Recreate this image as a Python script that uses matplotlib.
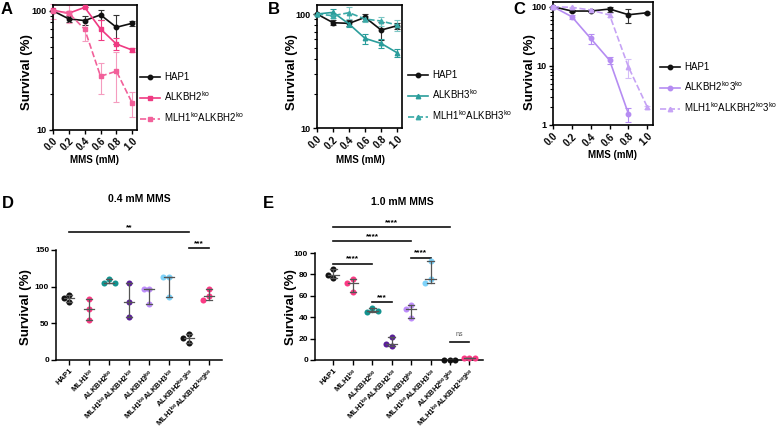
import numpy as np
import matplotlib
matplotlib.use('Agg')
import matplotlib.pyplot as plt

plt.rcParams['font.family'] = ['Liberation Sans', 'DejaVu Sans']
plt.rcParams['mathtext.default'] = 'regular'

W, H = 777, 433

# ---- survival curves (A-C) ----
mms = [0.0, 0.2, 0.4, 0.6, 0.8, 1.0]

a_hap1 = [100, 85.5, 82.8, 92.5, 72.7, 78.6]
a_hap1_sd = [0, 5, 7, 9, 20, 4]
a_alkbh2 = [101, 95.5, 107, 70.4, 52.5, 46.7]
a_alkbh2_sd = [0, 4, 0, 14, 6, 2]
a_mlh1_alkbh2 = [100, 95.5, 70, 28.1, 31, 16.7]
a_mlh1_alkbh2_sd = [15, 17, 14, 8, 14, 4]

b_hap1 = [100, 83.9, 82.8, 93.5, 72.3, 79.0]
b_hap1_sd = [0, 4, 5, 6, 13, 5]
b_alkbh3 = [100, 103.4, 81.7, 61.1, 55.2, 45.7]
b_alkbh3_sd = [0, 7, 5, 6, 5, 4]
b_mlh1_alkbh3 = [100, 96.7, 102.7, 90.4, 86.8, 80.0]
b_mlh1_alkbh3_sd = [0, 5, 12, 6, 8, 9]

c_hap1 = [100, 84.4, 84.4, 91.3, 73.1, 79.0]
c_hap1_sd = [0, 3, 3, 9, 20, 3]
c_alkbh23 = [100, 67.6, 29.0, 12.4, 1.54]
c_alkbh23_sd = [0, 5, 5.5, 1.7, 0.4]
c_mlh1_alkbh23 = [100, 97.4, 87.8, 72.2, 9.55, 2.0]
c_mlh1_alkbh23_sd = [0, 3, 3, 6, 3.3, 0.1]

# ---- single dose (D, E) ----
groups = ['HAP1', 'MLH1$^{ko}$', 'ALKBH2$^{ko}$', 'MLH1$^{ko}$ALKBH2$^{ko}$',
          'ALKBH3$^{ko}$', 'MLH1$^{ko}$ALKBH3$^{ko}$', 'ALKBH2$^{ko}$3$^{ko}$',
          'MLH1$^{ko}$ALKBH2$^{ko}$3$^{ko}$']
d_vals = [[88.6, 84.1, 78.6], [83.6, 69.5, 54.5], [110.5, 105.5, 105.5],
          [105.5, 79, 58], [97, 97, 77], [113.6, 112.7, 85.5],
          [35, 30.5, 23.2], [97.3, 87.3, 81.8]]
e_vals = [[76.6, 85.3, 79], [75.6, 71.9, 63.4], [49, 44.7, 46],
          [21.3, 13.4, 15], [51.3, 47.5, 39.7], [92.2, 75.6, 72.2],
          [0.4, 0.4, 0.4], [1.8, 1.8, 1.8]]
d_sig = [(0, 6, 174.5, '**'), (6, 7, 152.7, '***')]
e_sig = [(0, 6, 124, '****'), (0, 4, 111, '****'), (0, 2, 90, '****'),
         (2, 3, 54.4, '***'), (4, 5, 95.6, '****'), (6, 7, 17, 'ns')]

grp_colors = ['#111111', '#fb3a84', '#13938f', '#5a1f9a', '#bd8dfb',
              '#7ed2f9', '#111111', '#fb3a84']

fig = plt.figure(figsize=(W / 100, H / 100), dpi=100)


def rect(l, t, r, b):
    return [l / W, 1 - b / H, (r - l) / W, (b - t) / H]


def ftext(x, y, s, **kw):
    fig.text(x / W, 1 - y / H, s, ha='center', va='center', **kw)


def curve_panel(r, series, ylim, yticks, leg_xy):
    ax = fig.add_axes(rect(*r))
    ax.set_yscale('log')
    for x, y, sd, lab, c, ls, mk, ec in series:
        x = x[:len(y)]
        ax.errorbar(x, y, yerr=sd, fmt='none', ecolor=ec, elinewidth=0.8,
                    capsize=2, capthick=0.8, clip_on=False, zorder=2)
        ax.plot(x, y, color=c, ls=ls, marker=mk, ms=3.2, lw=1.2, label=lab,
                clip_on=False, zorder=3)
    ax.set_xlim(0, 1.06)
    ax.set_ylim(*ylim)
    ax.set_xticks(mms)
    ax.set_xticklabels(['%.1f' % v for v in mms], rotation=45, ha='right',
                       va='top', rotation_mode='anchor', fontsize=7,
                       fontweight='bold')
    ax.set_yticks(yticks)
    ax.set_yticklabels([str(v) for v in yticks], fontsize=6.5, fontweight='bold')
    ax.tick_params(axis='both', direction='out', length=3, width=1, pad=1.5)
    ax.tick_params(axis='y', which='minor', length=2, width=0.8)
    ax.tick_params(axis='y', which='minor', labelleft=False)
    for s in ax.spines.values():
        s.set_linewidth(1.2)
    ax.legend(loc='center left', bbox_to_anchor=(leg_xy[0] / W, 1 - leg_xy[1] / H),
              bbox_transform=fig.transFigure, frameon=False, fontsize=7,
              handlelength=2.1, handletextpad=0.35, labelspacing=0.75,
              borderpad=0, borderaxespad=0)
    return ax


pink, pink2 = '#ef3a82', '#f2609a'
teal, teal2 = '#2a9d9b', '#3aa9a7'
lav, lav2 = '#b58cf2', '#c6a3f5'

curve_panel((53, 5, 137, 129.5), [
    (mms, a_hap1, a_hap1_sd, 'HAP1', '#111111', '-', 'o', '#333333'),
    (mms, a_alkbh2, a_alkbh2_sd, 'ALKBH2$^{ko}$', pink, '-', 's', pink),
    (mms, a_mlh1_alkbh2, a_mlh1_alkbh2_sd, 'MLH1$^{ko}$ALKBH2$^{ko}$', pink2, '--', 's', '#f59cbf'),
], (10, 112), [10, 100], (140, 98))

curve_panel((317, 5, 402, 128), [
    (mms, b_hap1, b_hap1_sd, 'HAP1', '#111111', '-', 'o', '#333333'),
    (mms, b_alkbh3, b_alkbh3_sd, 'ALKBH3$^{ko}$', teal, '-', '^', teal),
    (mms, b_mlh1_alkbh3, b_mlh1_alkbh3_sd, 'MLH1$^{ko}$ALKBH3$^{ko}$', teal2, '--', '^', '#7cc6c4'),
], (10, 120), [10, 100], (408, 96))

curve_panel((553, 2, 653, 125), [
    (mms, c_hap1, c_hap1_sd, 'HAP1', '#111111', '-', 'o', '#333333'),
    (mms, c_alkbh23, c_alkbh23_sd, 'ALKBH2$^{ko}$3$^{ko}$', lav, '-', 'o', lav),
    (mms, c_mlh1_alkbh23, c_mlh1_alkbh23_sd, 'MLH1$^{ko}$ALKBH2$^{ko}$3$^{ko}$', lav2, '--', '^', '#d4bdf7'),
], (1, 120), [1, 10, 100], (660, 88))


def swarm(vals, py, px, d=5.5):
    placed, offs = [], []
    for v in vals:
        for k in [0, -1, 1, -2, 2]:
            x = k * d
            if all((x - xo) ** 2 + ((v - vo) * py) ** 2 >= d * d for xo, vo in placed):
                break
        placed.append((x, v))
        offs.append(x / px)
    return np.array(offs)


def dot_panel(r, vals, ylim, yticks, sig, xl):
    ax = fig.add_axes(rect(*r))
    px = (r[2] - r[0]) / (xl[1] - xl[0])
    py = (r[3] - r[1]) / (ylim[1] - ylim[0])
    for i, (v, c) in enumerate(zip(vals, grp_colors)):
        offs = swarm(v, py, px)
        ax.scatter(i + offs, v, s=19, color=c, linewidths=0, zorder=3, clip_on=False)
        lo, hi, med = min(v), max(v), np.median(v)
        g = '#555555'
        ax.plot([i, i], [lo, hi], color=g, lw=0.9, zorder=4)
        ax.plot([i - 0.17, i + 0.17], [lo, lo], color=g, lw=0.9, zorder=4)
        ax.plot([i - 0.17, i + 0.17], [hi, hi], color=g, lw=0.9, zorder=4)
        ax.plot([i - 0.27, i + 0.27], [med, med], color=g, lw=0.9, zorder=4)
    for x0, x1, y, s in sig:
        ax.plot([x0, x1], [y, y], color='#111111', lw=1.2, clip_on=False)
        if s == 'ns':
            ax.text((x0 + x1) / 2, y + 4 / py, s, ha='center', va='bottom',
                    fontsize=5, color='#555555')
        else:
            ax.text((x0 + x1) / 2, y + 1 / py, s, ha='center', va='bottom',
                    fontsize=6, fontweight='bold')
    ax.set_xlim(*xl)
    ax.set_ylim(*ylim)
    ax.set_xticks(range(len(groups)))
    ax.set_xticklabels(groups, rotation=45, ha='right', va='top',
                       rotation_mode='anchor', fontsize=5.5, fontweight='bold')
    ax.set_yticks(yticks)
    ax.set_yticklabels([str(v) for v in yticks], fontsize=6, fontweight='bold')
    ax.tick_params(direction='out', length=3.5, width=1, pad=1.5)
    ax.spines['top'].set_visible(False)
    ax.spines['right'].set_visible(False)
    for s in ['left', 'bottom']:
        ax.spines[s].set_linewidth(1.1)
    return ax


dot_panel((56, 250, 222, 360), d_vals, (0, 150), [0, 50, 100, 150], d_sig, (-0.65, 7.65))
dot_panel((315, 253, 483, 360), e_vals, (0, 100), [0, 20, 40, 60, 80, 100], e_sig, (-0.95, 7.7))

# panel letters and labels
for x, y, s in [(7, 9, 'A'), (274, 9, 'B'), (519, 9, 'C'), (8, 204, 'D'), (268, 204, 'E')]:
    ftext(x, y, s, fontsize=12, fontweight='bold')
for x, y in [(27, 72), (292, 72), (530, 72), (26, 307), (291, 307)]:
    ftext(x, y, 'Survival (%)', fontsize=9.5, fontweight='bold', rotation=90)
for x, y in [(95, 160), (360, 160), (612, 155)]:
    ftext(x, y, 'MMS (mM)', fontsize=7, fontweight='bold')
ftext(139, 199, '0.4 mM MMS', fontsize=7.5, fontweight='bold')
ftext(402, 202, '1.0 mM MMS', fontsize=7.5, fontweight='bold')

fig.savefig('out.png', dpi=100)
